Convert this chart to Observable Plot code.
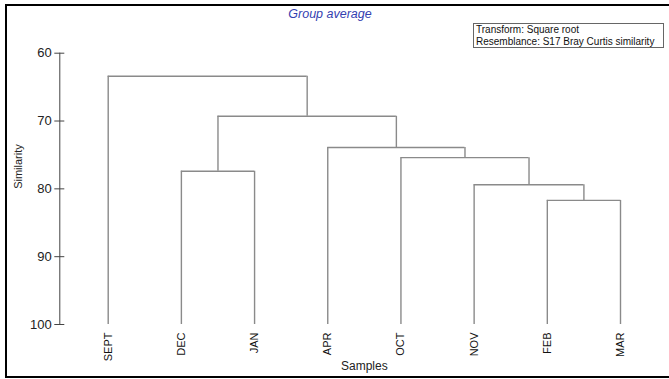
<!DOCTYPE html>
<html>
<head>
<meta charset="utf-8">
<script src="https://cdn.jsdelivr.net/npm/d3@7"></script>
<script src="https://cdn.jsdelivr.net/npm/@observablehq/plot@0.6"></script>
<style>
  html, body { margin: 0; padding: 0; background: #fff; overflow: hidden; }
  #wrap { position: relative; width: 669px; height: 379px; overflow: hidden; font-family: Arial, "Liberation Sans", sans-serif; }
  #border { position: absolute; left: 5px; top: 4px; width: 800px; height: 374px; box-sizing: border-box;
            border-left: 2px solid #000; border-top: 2px solid #000; border-bottom: 2px solid #000; pointer-events: none; }
  #title { position: absolute; left: 230px; width: 200px; top: 7px; text-align: center; font-style: italic;
           font-size: 12.5px; color: #3340b0; }
  #note { position: absolute; left: 473px; top: 23px; width: 191px; height: 25px; box-sizing: border-box;
          border: 1px solid #666; font-size: 10px; line-height: 11.5px; padding: 0 0 0 2px; color: #111; white-space: nowrap; }
  #plot { position: absolute; left: 0; top: 0; }
</style>
</head>
<body>
<div id="wrap">
  <div id="plot"></div>
  <div id="title">Group average</div>
  <div id="note">Transform: Square root<br>Resemblance: S17 Bray Curtis similarity</div>
  <div id="border"></div>
</div>
<script>
// Leaves in dendrogram order
const leaves = ["SEPT", "DEC", "JAN", "APR", "OCT", "NOV", "FEB", "MAR"];
// Merge steps: cluster "C<k+1>" joins mergeA[k] and mergeB[k] at mergeSim[k] (% similarity)
const mergeA = ["FEB", "DEC", "NOV", "OCT", "APR", "C2", "SEPT"];
const mergeB = ["MAR", "JAN", "C1", "C3", "C4", "C5", "C6"];
const mergeSim = [81.7, 77.4, 79.4, 75.4, 73.9, 69.3, 63.4];
const yTicks = [60, 70, 80, 90, 100];

// Build dendrogram segments from the merge table
const node = {};
leaves.forEach((name, i) => { node[name] = {x: i, y: 100}; });
const horiz = [], vert = [];
mergeA.forEach((a, k) => {
  const b = mergeB[k], s = mergeSim[k];
  const na = node[a], nb = node[b];
  node["C" + (k + 1)] = {x: (na.x + nb.x) / 2, y: s};
  horiz.push({x1: na.x, x2: nb.x, y: s});
  vert.push({x: na.x, y1: na.y, y2: s});
  vert.push({x: nb.x, y1: nb.y, y2: s});
});

const chart = Plot.plot({
  width: 669,
  height: 379,
  marginTop: 52.7,
  marginBottom: 55,
  marginLeft: 59.3,
  marginRight: 49,
  style: {fontFamily: "Arial, 'Liberation Sans', sans-serif", color: "#222", background: "transparent"},
  x: {domain: [0, leaves.length - 1], range: [107.7, 620]},
  y: {domain: [60, 100], reverse: true},
  marks: [
    Plot.frame({anchor: "left", stroke: "#444"}),
    Plot.axisY(yTicks, {tickSize: 10, dx: 5, tickPadding: 3, fontSize: 13, label: null, stroke: "#444", fill: "#222"}),
    Plot.axisX(leaves.map((d, i) => i), {tickFormat: i => leaves[i], tickSize: 0, tickPadding: 8, tickRotate: -90, fontSize: 11, label: null, fill: "#111"}),
    Plot.ruleX(vert, {x: "x", y1: "y1", y2: "y2", stroke: "#8a8a8a", strokeWidth: 1.4}),
    Plot.ruleY(horiz, {y: "y", x1: "x1", x2: "x2", stroke: "#8a8a8a", strokeWidth: 1.4}),
    Plot.text(["Samples"], {x: (leaves.length - 1) / 2, frameAnchor: "bottom", dy: 45, fontSize: 12, fill: "#222"}),
    Plot.text(["Similarity"], {frameAnchor: "left", dx: -41, rotate: -90, fontSize: 11, fill: "#222"})
  ]
});
document.getElementById("plot").appendChild(chart);
</script>
</body>
</html>
